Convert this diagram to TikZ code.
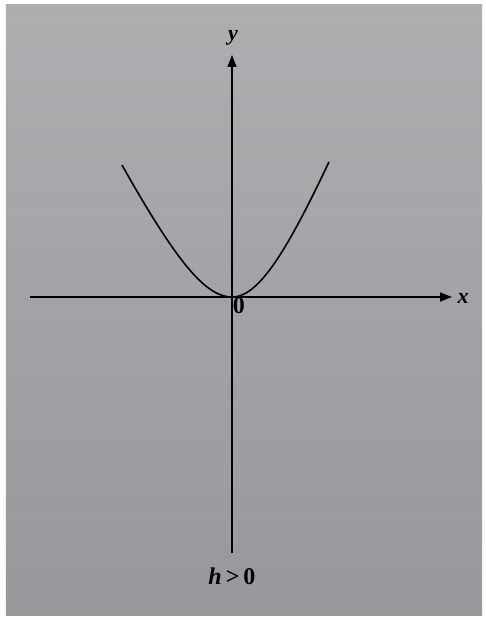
\documentclass[tikz,border=0pt]{standalone}
\usepackage{fontspec}
\setmainfont{Liberation Serif}
\usetikzlibrary{arrows.meta}
\begin{document}
\begin{tikzpicture}[x=1pt,y=1pt,>={Triangle[length=12pt,width=9pt]},
  axis/.style={line width=1.6pt,->},curve/.style={line width=1.6pt,line join=round},
  lab/.style={font=\fontsize{22}{22}\selectfont\bfseries\itshape,inner sep=0pt}]
\useasboundingbox (-232,-324) rectangle (254,297);
\fill[white] (-232,-324) rectangle (254,297);
\shade[top color={rgb,255:red,172;green,174;blue,176},bottom color={rgb,255:red,150;green,152;blue,156}] (-226,292) rectangle (250,-318);
\coordinate (O) at (0,0);\coordinate (xl) at (-202,0);\coordinate (xr) at (220,0);
\coordinate (yb) at (0,-256);\coordinate (yt) at (0,242);
\draw[axis] (xl)--(xr);\draw[axis] (yb)--(yt);
\node[lab] (xn) at (231,-1){x};\node[lab] (yn) at (1,259){y};
\node[font=\fontsize{24}{24}\selectfont\bfseries,inner sep=0pt] (zero) at (7,-9){0};
\node[font=\fontsize{24}{24}\selectfont\bfseries,inner sep=0pt] (cond) at (0,-279){\textit{h}\,>\,0};
\draw[curve] plot[domain=-110:0,samples=60] (\x,{2.02*(sqrt(\x*\x+3600)-60)})
  -- plot[domain=0:97,samples=60] (\x,{2.5*(sqrt(\x*\x+3600)-60)});
\end{tikzpicture}
\end{document}
